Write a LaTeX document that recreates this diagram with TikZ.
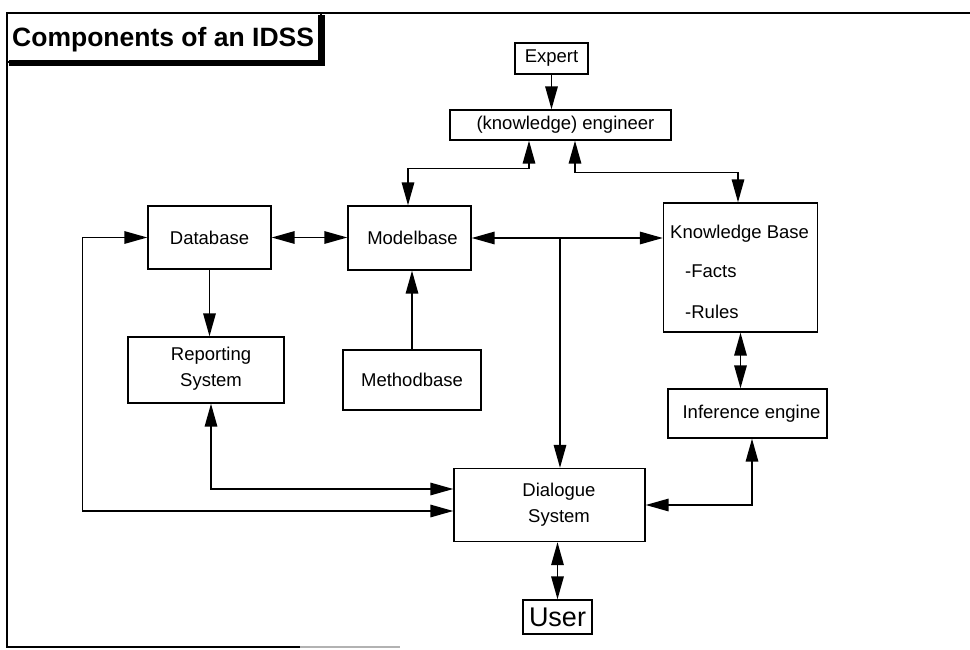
\documentclass[tikz,border=0pt]{standalone}
\usepackage{fontspec}
\setmainfont{Liberation Sans}
\usetikzlibrary{arrows.meta,calc}
\begin{document}
\begin{tikzpicture}[x=1pt,y=-1pt,
  box/.style={draw,line width=1.4pt,inner sep=0pt,font=\fontsize{18.5}{26}\selectfont},
  txt/.style={inner sep=0pt,font=\fontsize{18.5}{26}\selectfont},
  conn/.style={line width=1.6pt},
  >={Triangle[length=23pt,width=12.5pt]}]
\useasboundingbox (0,0) rectangle (970,650);

% outer frame
\draw[line width=1.6pt] (970,13) -- (7,13) -- (7,647) -- (300,647);
\draw[line width=1.5pt,gray!60] (300,647) -- (400,647);

% title
\node[inner sep=0pt,anchor=base west,font=\fontsize{26.5}{30}\selectfont\bfseries] (title) at (12,46.5) {Components of an IDSS};
\draw[line width=1.3pt] (7,13) rectangle (321,62);
\fill (318,15) rectangle (325,66);
\fill (9,60) rectangle (325,66);

% boxes
\node[box,minimum width=73pt,minimum height=31pt] (expert) at (551.5,58.5) {Expert};
\node[box,minimum width=221pt,minimum height=30pt] (eng) at (560.5,125) {\hspace*{10pt}(knowledge) engineer};
\node[box,minimum width=123pt,minimum height=63pt] (db) at (209.5,237.5) {Database};
\node[box,minimum width=123pt,minimum height=64pt] (mb) at (409.5,238) {\hspace*{6pt}Modelbase};
\node[box,minimum width=154pt,minimum height=129pt] (kb) at (740.5,267.5) {};
\node[txt,anchor=base west] (kbt) at (670,238) {Knowledge Base};
\node[txt,anchor=base west] (kbf) at (685,277) {-Facts};
\node[txt,anchor=base west] (kbr) at (685,318) {-Rules};
\node[box,minimum width=156pt,minimum height=66pt] (rep) at (206,370) {};
\node[txt,align=center] (rept) at (211,369) {Reporting\\System};
\node[box,minimum width=138pt,minimum height=60pt] (meth) at (412,380) {Methodbase};
\node[box,minimum width=159pt,minimum height=49pt] (inf) at (747.5,413.5) {};
\node[txt] (inft) at (751.5,413.5) {Inference engine};
\node[box,minimum width=191pt,minimum height=73pt] (dia) at (549.5,505) {};
\node[txt,align=center] (diat) at (559,505) {Dialogue\\System};
\node[box,minimum width=69pt,minimum height=34pt,font=\fontsize{27}{30}\selectfont] (user) at (557.5,617) {User};

% connectors
\draw[conn,->] (expert.south) -- (expert.south |- eng.north);
\draw[conn,<->] ([xshift=-31.5pt]eng.south) -- ++(0,28) -| ([xshift=-1.5pt]mb.north);
\draw[conn,<->] ([xshift=14.5pt]eng.south) -- ++(0,32) -| ([xshift=-2.5pt]kb.north);
\draw[conn,<->] (db.east) -- (db.east -| mb.west);
\draw[conn,<->] (mb.east) -- (mb.east -| kb.west);
\coordinate (jj) at (560,238);
\draw[conn,->] (jj) -- (jj |- dia.north);
\draw[conn,->] (db.south) -- (db.south |- rep.north);
\draw[conn,->] (meth.north) -- (meth.north |- mb.south);
\draw[conn,<->] (db.west) -- ++(-65,0) |- ([yshift=-6pt]dia.west);
\draw[conn,<->] ([xshift=5pt]rep.south) |- ([yshift=16pt]dia.west);
\draw[conn,<->] (kb.south) -- (kb.south |- inf.north);
\draw[conn,<->] ([xshift=4.5pt]inf.south) |- (dia.east);
\draw[conn,<->] (dia.south -| user.north) -- (user.north);
\end{tikzpicture}
\end{document}
